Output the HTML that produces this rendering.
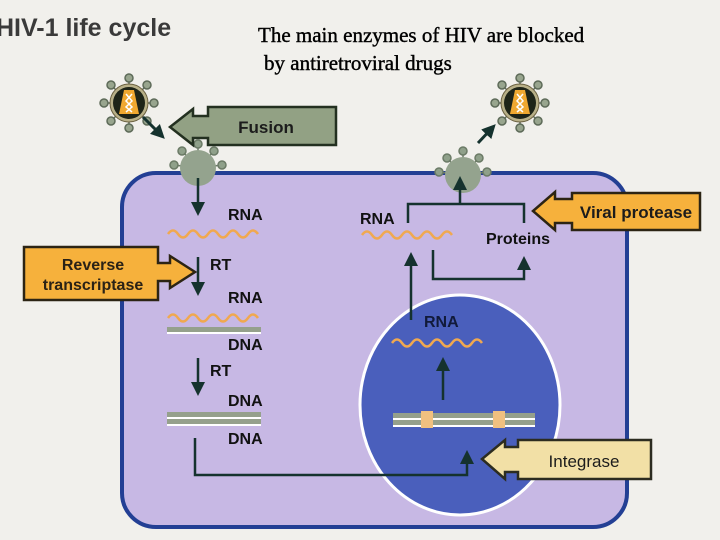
<!DOCTYPE html><html><head><style>body{margin:0;background:#f1f0ec}svg{display:block}</style></head><body>
<svg width="720" height="540" viewBox="0 0 720 540" xmlns="http://www.w3.org/2000/svg" font-family="Liberation Sans, sans-serif">
<defs>
<g id="virus">
 <g stroke="#5d6a58" stroke-width="1.5" fill="#98a58e">
  <line x1="0" y1="0" x2="0" y2="-25"/><line x1="0" y1="0" x2="0" y2="25"/><line x1="0" y1="0" x2="25" y2="0"/><line x1="0" y1="0" x2="-25" y2="0"/>
  <line x1="0" y1="0" x2="18" y2="18"/><line x1="0" y1="0" x2="-18" y2="18"/><line x1="0" y1="0" x2="18" y2="-18"/><line x1="0" y1="0" x2="-18" y2="-18"/>
  <circle cx="0" cy="-25" r="4"/><circle cx="0" cy="25" r="4"/><circle cx="25" cy="0" r="4"/><circle cx="-25" cy="0" r="4"/>
  <circle cx="18" cy="18" r="4"/><circle cx="-18" cy="18" r="4"/><circle cx="18" cy="-18" r="4"/><circle cx="-18" cy="-18" r="4"/>
 </g>
 <circle r="19" fill="#b8b088" stroke="#6a6040" stroke-width="1"/>
 <circle r="16" fill="#1e2418"/>
 <path d="M-5,-13 L5,-13 L10,11 L-10,11 Z" fill="#f0a830"/>
 <path d="M-3,-9 L3,-2 L-3,4 L3,9 M3,-9 L-3,-2 L3,4 L-3,9" stroke="#fff" stroke-width="1.5" fill="none"/>
</g>
<g id="bud">
 <g stroke="#6b7a66" stroke-width="1.5" fill="#8fa08a">
  <line x1="0" y1="0" x2="0" y2="-24"/><line x1="0" y1="0" x2="-24" y2="-3"/><line x1="0" y1="0" x2="24" y2="-3"/><line x1="0" y1="0" x2="-16" y2="-17"/><line x1="0" y1="0" x2="16" y2="-17"/>
  <circle cx="0" cy="-24" r="4"/><circle cx="-24" cy="-3" r="4"/><circle cx="24" cy="-3" r="4"/><circle cx="-16" cy="-17" r="4"/><circle cx="16" cy="-17" r="4"/>
 </g>
 <circle r="18" fill="#94a38e"/>
</g>
<marker id="ah" markerWidth="14" markerHeight="14" refX="4" refY="7" orient="auto" markerUnits="userSpaceOnUse"><path d="M0,0 L14,7 L0,14 Z" fill="#15322e"/></marker>
<marker id="ah2" markerWidth="14" markerHeight="14" refX="10" refY="7" orient="auto" markerUnits="userSpaceOnUse"><path d="M0,0 L14,7 L0,14 Z" fill="#15322e"/></marker>
</defs>
<text x="-4" y="36" font-size="25" font-weight="bold" fill="#3a3a3a">HIV-1 life cycle</text>
<text x="258" y="42" font-family="Liberation Serif, serif" font-size="21" fill="#000" stroke="#000" stroke-width="0.4">The main enzymes of HIV are blocked</text>
<text x="264" y="70" font-family="Liberation Serif, serif" font-size="21" fill="#000" stroke="#000" stroke-width="0.4">by antiretroviral drugs</text>

<rect x="122" y="173" width="505" height="354" rx="34" fill="#c7b8e4" stroke="#233f94" stroke-width="4"/>
<use href="#bud" x="198" y="168"/>
<use href="#bud" x="463" y="175"/>
<use href="#virus" x="129" y="103"/>
<use href="#virus" x="520" y="103"/>
<line x1="143" y1="117" x2="162" y2="136" stroke="#15322e" stroke-width="3" marker-end="url(#ah2)"/>
<line x1="478" y1="143" x2="493" y2="127" stroke="#15322e" stroke-width="3" marker-end="url(#ah2)"/>

<ellipse cx="460" cy="405" rx="100" ry="110" fill="#4a5fbc" stroke="#fff" stroke-width="3"/>

<path d="M208,107 L336,107 L336,145 L208,145 L208,138 L193,138 L193,145 L170,127 L193,109 L193,116 L208,116 Z" fill="#92a184" stroke="#233020" stroke-width="2.5"/>
<text x="266" y="133" font-size="17" font-weight="bold" fill="#1c1c1c" text-anchor="middle">Fusion</text>
<path d="M572,193 L700,193 L700,230 L572,230 L572,223 L555,223 L555,230 L533,211 L555,192 L555,199 L572,199 Z" fill="#f6b13c" stroke="#2c2414" stroke-width="2.5"/>
<text x="636" y="218" font-size="17" font-weight="bold" fill="#1c1c1c" text-anchor="middle">Viral protease</text>
<path d="M24,247 L158,247 L158,263 L170,263 L170,256 L195,272 L170,288 L170,281 L158,281 L158,300 L24,300 Z" fill="#f6b13c" stroke="#2c2414" stroke-width="2.5"/>
<text x="93" y="270" font-size="16" font-weight="bold" fill="#2a2216" text-anchor="middle">Reverse</text>
<text x="93" y="290" font-size="16" font-weight="bold" fill="#2a2216" text-anchor="middle">transcriptase</text>
<path d="M518,440 L651,440 L651,479 L518,479 L518,472 L505,472 L505,479 L482,459 L505,440 L505,447 L518,447 Z" fill="#f2e0a6" stroke="#2c2c20" stroke-width="2.5"/>
<text x="584" y="467" font-size="17" fill="#1c1c1c" text-anchor="middle">Integrase</text>

<g stroke="#15322e" stroke-width="2.5" fill="none">
 <line x1="198" y1="178" x2="198" y2="206" marker-end="url(#ah)"/>
 <line x1="198" y1="257" x2="198" y2="286" marker-end="url(#ah)"/>
 <line x1="198" y1="358" x2="198" y2="386" marker-end="url(#ah)"/>
 <polyline points="195,438 195,475 467,475 467,460" marker-end="url(#ah)"/>
 <line x1="460" y1="204" x2="460" y2="186" marker-end="url(#ah)"/>
 <polyline points="408,223 408,204 524,204 524,223"/>
 <line x1="411" y1="320" x2="411" y2="262" marker-end="url(#ah)"/>
 <polyline points="433,250 433,279 524,279 524,266" marker-end="url(#ah)"/>
 <line x1="443" y1="400" x2="443" y2="367" marker-end="url(#ah)"/>
</g>
<g fill="#111" font-size="16" font-weight="bold">
 <text x="228" y="220">RNA</text><text x="210" y="270">RT</text><text x="228" y="303">RNA</text>
 <text x="228" y="350">DNA</text><text x="210" y="376">RT</text><text x="228" y="406">DNA</text><text x="228" y="444">DNA</text>
 <text x="360" y="224">RNA</text><text x="486" y="244">Proteins</text>
 <text x="424" y="327" fill="#111a3a">RNA</text>
</g>
<g stroke="#f0a850" stroke-width="2.5" fill="none">
 <path d="M168,234 q5,-7 10,0 t10,0 t10,0 t10,0 t10,0 t10,0 t10,0 t10,0 t10,0"/>
 <path d="M168,318 q5,-7 10,0 t10,0 t10,0 t10,0 t10,0 t10,0 t10,0 t10,0 t10,0"/>
 <path d="M362,235 q5,-7 10,0 t10,0 t10,0 t10,0 t10,0 t10,0 t10,0 t10,0 t10,0"/>
 <path d="M392,343 q5,-7 10,0 t10,0 t10,0 t10,0 t10,0 t10,0 t10,0 t10,0 t10,0"/>
</g>
<rect x="167" y="327" width="94" height="5" fill="#95a08c"/><rect x="167" y="332" width="94" height="2" fill="#fff"/>
<rect x="167" y="412" width="94" height="5" fill="#95a08c"/><rect x="167" y="417" width="94" height="2" fill="#fff"/>
<rect x="167" y="419" width="94" height="5" fill="#95a08c"/><rect x="167" y="424" width="94" height="2" fill="#fff"/>
<rect x="393" y="413" width="142" height="5" fill="#95a08c"/><rect x="393" y="418" width="142" height="2" fill="#fff"/>
<rect x="393" y="420" width="142" height="5" fill="#95a08c"/><rect x="393" y="425" width="142" height="2" fill="#fff"/>
<rect x="421" y="411" width="12" height="17" fill="#f0c080"/>
<rect x="493" y="411" width="12" height="17" fill="#f0c080"/>
</svg>
</body></html>
